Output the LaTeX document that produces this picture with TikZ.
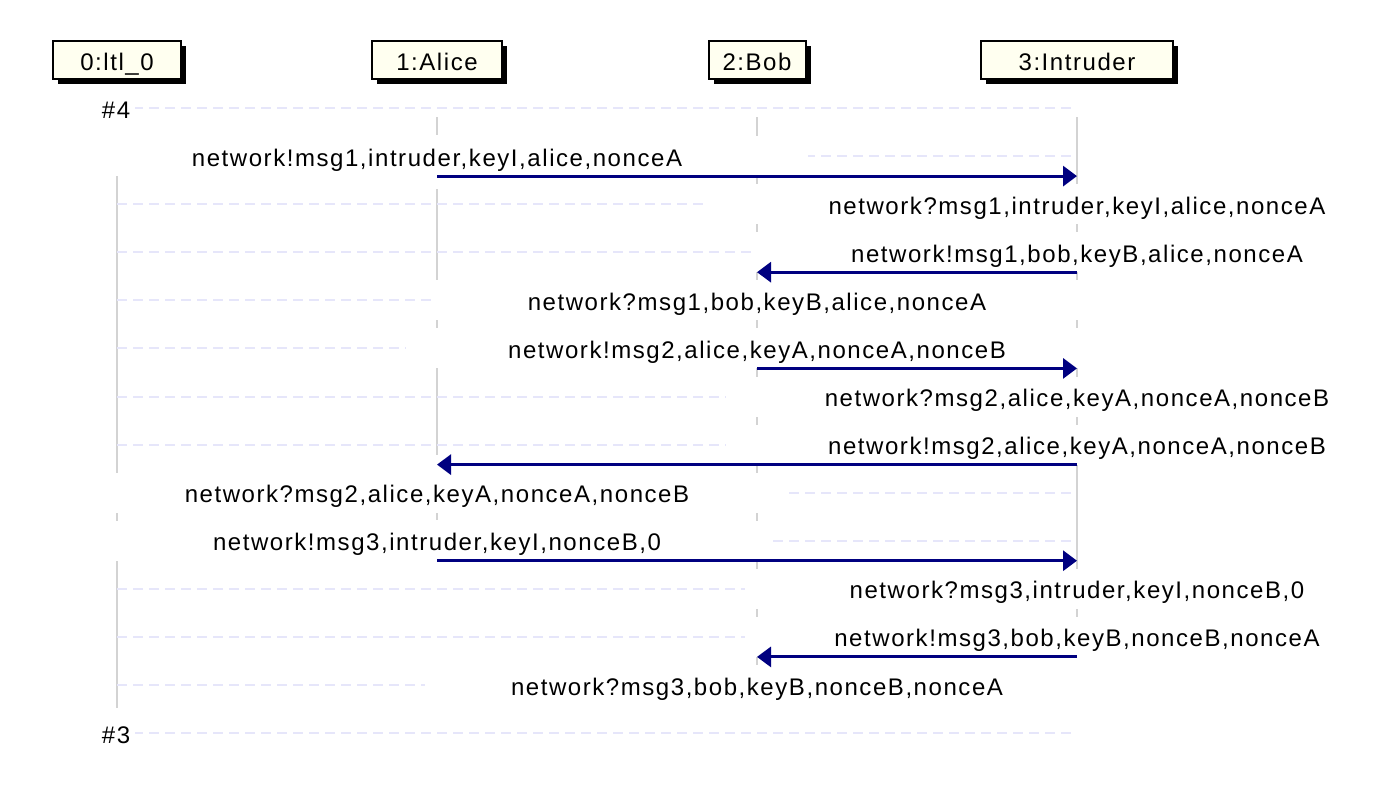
\documentclass[tikz,border=0pt]{standalone}
\usepackage{fontspec}
\setmainfont{Liberation Sans}[LetterSpace=6.5]
\usetikzlibrary{arrows.meta,shadows}
\definecolor{gridc}{HTML}{E6E6FA}
\definecolor{lifec}{HTML}{D3D3D3}
\definecolor{hdrc}{HTML}{FFFFF0}
\definecolor{arrc}{HTML}{000080}
\begin{document}
\begin{tikzpicture}[x=1pt,y=-1pt,
  hdrbox/.style={draw=black, line width=2pt, fill=hdrc, minimum height=38pt, inner sep=0pt,
    text height=25pt, text depth=5pt, font=\fontsize{24}{28}\selectfont,
    drop shadow={shadow xshift=5pt, shadow yshift=-5pt, fill=black, opacity=1}},
  lifeln/.style={draw=lifec, line width=2pt},
  gridln/.style={draw=gridc, line width=2pt, dash pattern=on 10pt off 6pt},
  lbl/.style={fill=white, minimum height=40pt, inner sep=0pt,
    text height=25pt, text depth=5pt, font=\fontsize{24}{28}\selectfont},
  msg/.style={draw=arrc, line width=3pt, -{Triangle[length=14pt,width=20pt]}},
]
\useasboundingbox (0,0) rectangle (1394,798);

% headers
\node[hdrbox, minimum width=128pt] (h0) at (117,60) {0:ltl\_0};
\node[hdrbox, minimum width=130pt] (h1) at (437,60) {1:Alice};
\node[hdrbox, minimum width=97pt]  (h2) at (757,60) {2:Bob};
\node[hdrbox, minimum width=192pt] (h3) at (1077,60) {3:Intruder};

% lifelines
\draw[lifeln] (h0 |- 0,137) -- (h0 |- 0,708);
\draw[lifeln] (h1 |- 0,117) -- (h1 |- 0,135);
\draw[lifeln] (h1 |- 0,189) -- (h1 |- 0,455);
\draw[lifeln] (h1 |- 0,505) -- (h1 |- 0,520);
\draw[lifeln] (h2 |- 0,117) -- (h2 |- 0,705);
\draw[lifeln] (h3 |- 0,117) -- (h3 |- 0,656);

% grid lines
\foreach \yy in {108,156.1,204.2,252.2,300.3,348.4,396.5,444.6,492.6,540.7,588.8,636.9,685,733}
  \draw[gridln] (117,\yy) -- (1072,\yy);

% step labels
\node[lbl, minimum width=38pt] (s4) at (116,108) {\#4};
\node[lbl, minimum width=38pt] (s3) at (116,733) {\#3};

% message labels
\node[lbl, minimum width=741pt] (m1)  at (437,156.1)  {network!msg1,intruder,keyI,alice,nonceA};
\node[lbl, minimum width=741pt] (m2)  at (1077,204.2) {network?msg1,intruder,keyI,alice,nonceA};
\node[lbl, minimum width=646pt] (m3)  at (1077,252.2) {network!msg1,bob,keyB,alice,nonceA};
\node[lbl, minimum width=646pt] (m4)  at (757,300.3)  {network?msg1,bob,keyB,alice,nonceA};
\node[lbl, minimum width=703pt] (m5)  at (757,348.4)  {network!msg2,alice,keyA,nonceA,nonceB};
\node[lbl, minimum width=703pt] (m6)  at (1077,396.5) {network?msg2,alice,keyA,nonceA,nonceB};
\node[lbl, minimum width=703pt] (m7)  at (1077,444.6) {network!msg2,alice,keyA,nonceA,nonceB};
\node[lbl, minimum width=703pt] (m8)  at (437,492.6)  {network?msg2,alice,keyA,nonceA,nonceB};
\node[lbl, minimum width=665pt] (m9)  at (437,540.7)  {network!msg3,intruder,keyI,nonceB,0};
\node[lbl, minimum width=665pt] (m10) at (1077,588.8) {network?msg3,intruder,keyI,nonceB,0};
\node[lbl, minimum width=665pt] (m11) at (1077,636.9) {network!msg3,bob,keyB,nonceB,nonceA};
\node[lbl, minimum width=665pt] (m12) at (757,685)    {network?msg3,bob,keyB,nonceB,nonceA};

% arrow end points
\coordinate (a1s) at (h1 |- 0,176.1);  \coordinate (a1e) at (h3 |- 0,176.1);
\coordinate (a2s) at (h3 |- 0,272.2);  \coordinate (a2e) at (h2 |- 0,272.2);
\coordinate (a3s) at (h2 |- 0,368.4);  \coordinate (a3e) at (h3 |- 0,368.4);
\coordinate (a4s) at (h3 |- 0,464.6);  \coordinate (a4e) at (h1 |- 0,464.6);
\coordinate (a5s) at (h1 |- 0,560.7);  \coordinate (a5e) at (h3 |- 0,560.7);
\coordinate (a6s) at (h3 |- 0,656.9);  \coordinate (a6e) at (h2 |- 0,656.9);

\draw[msg] (a1s) -- (a1e);
\draw[msg] (a2s) -- (a2e);
\draw[msg] (a3s) -- (a3e);
\draw[msg] (a4s) -- (a4e);
\draw[msg] (a5s) -- (a5e);
\draw[msg] (a6s) -- (a6e);
\end{tikzpicture}
\end{document}
